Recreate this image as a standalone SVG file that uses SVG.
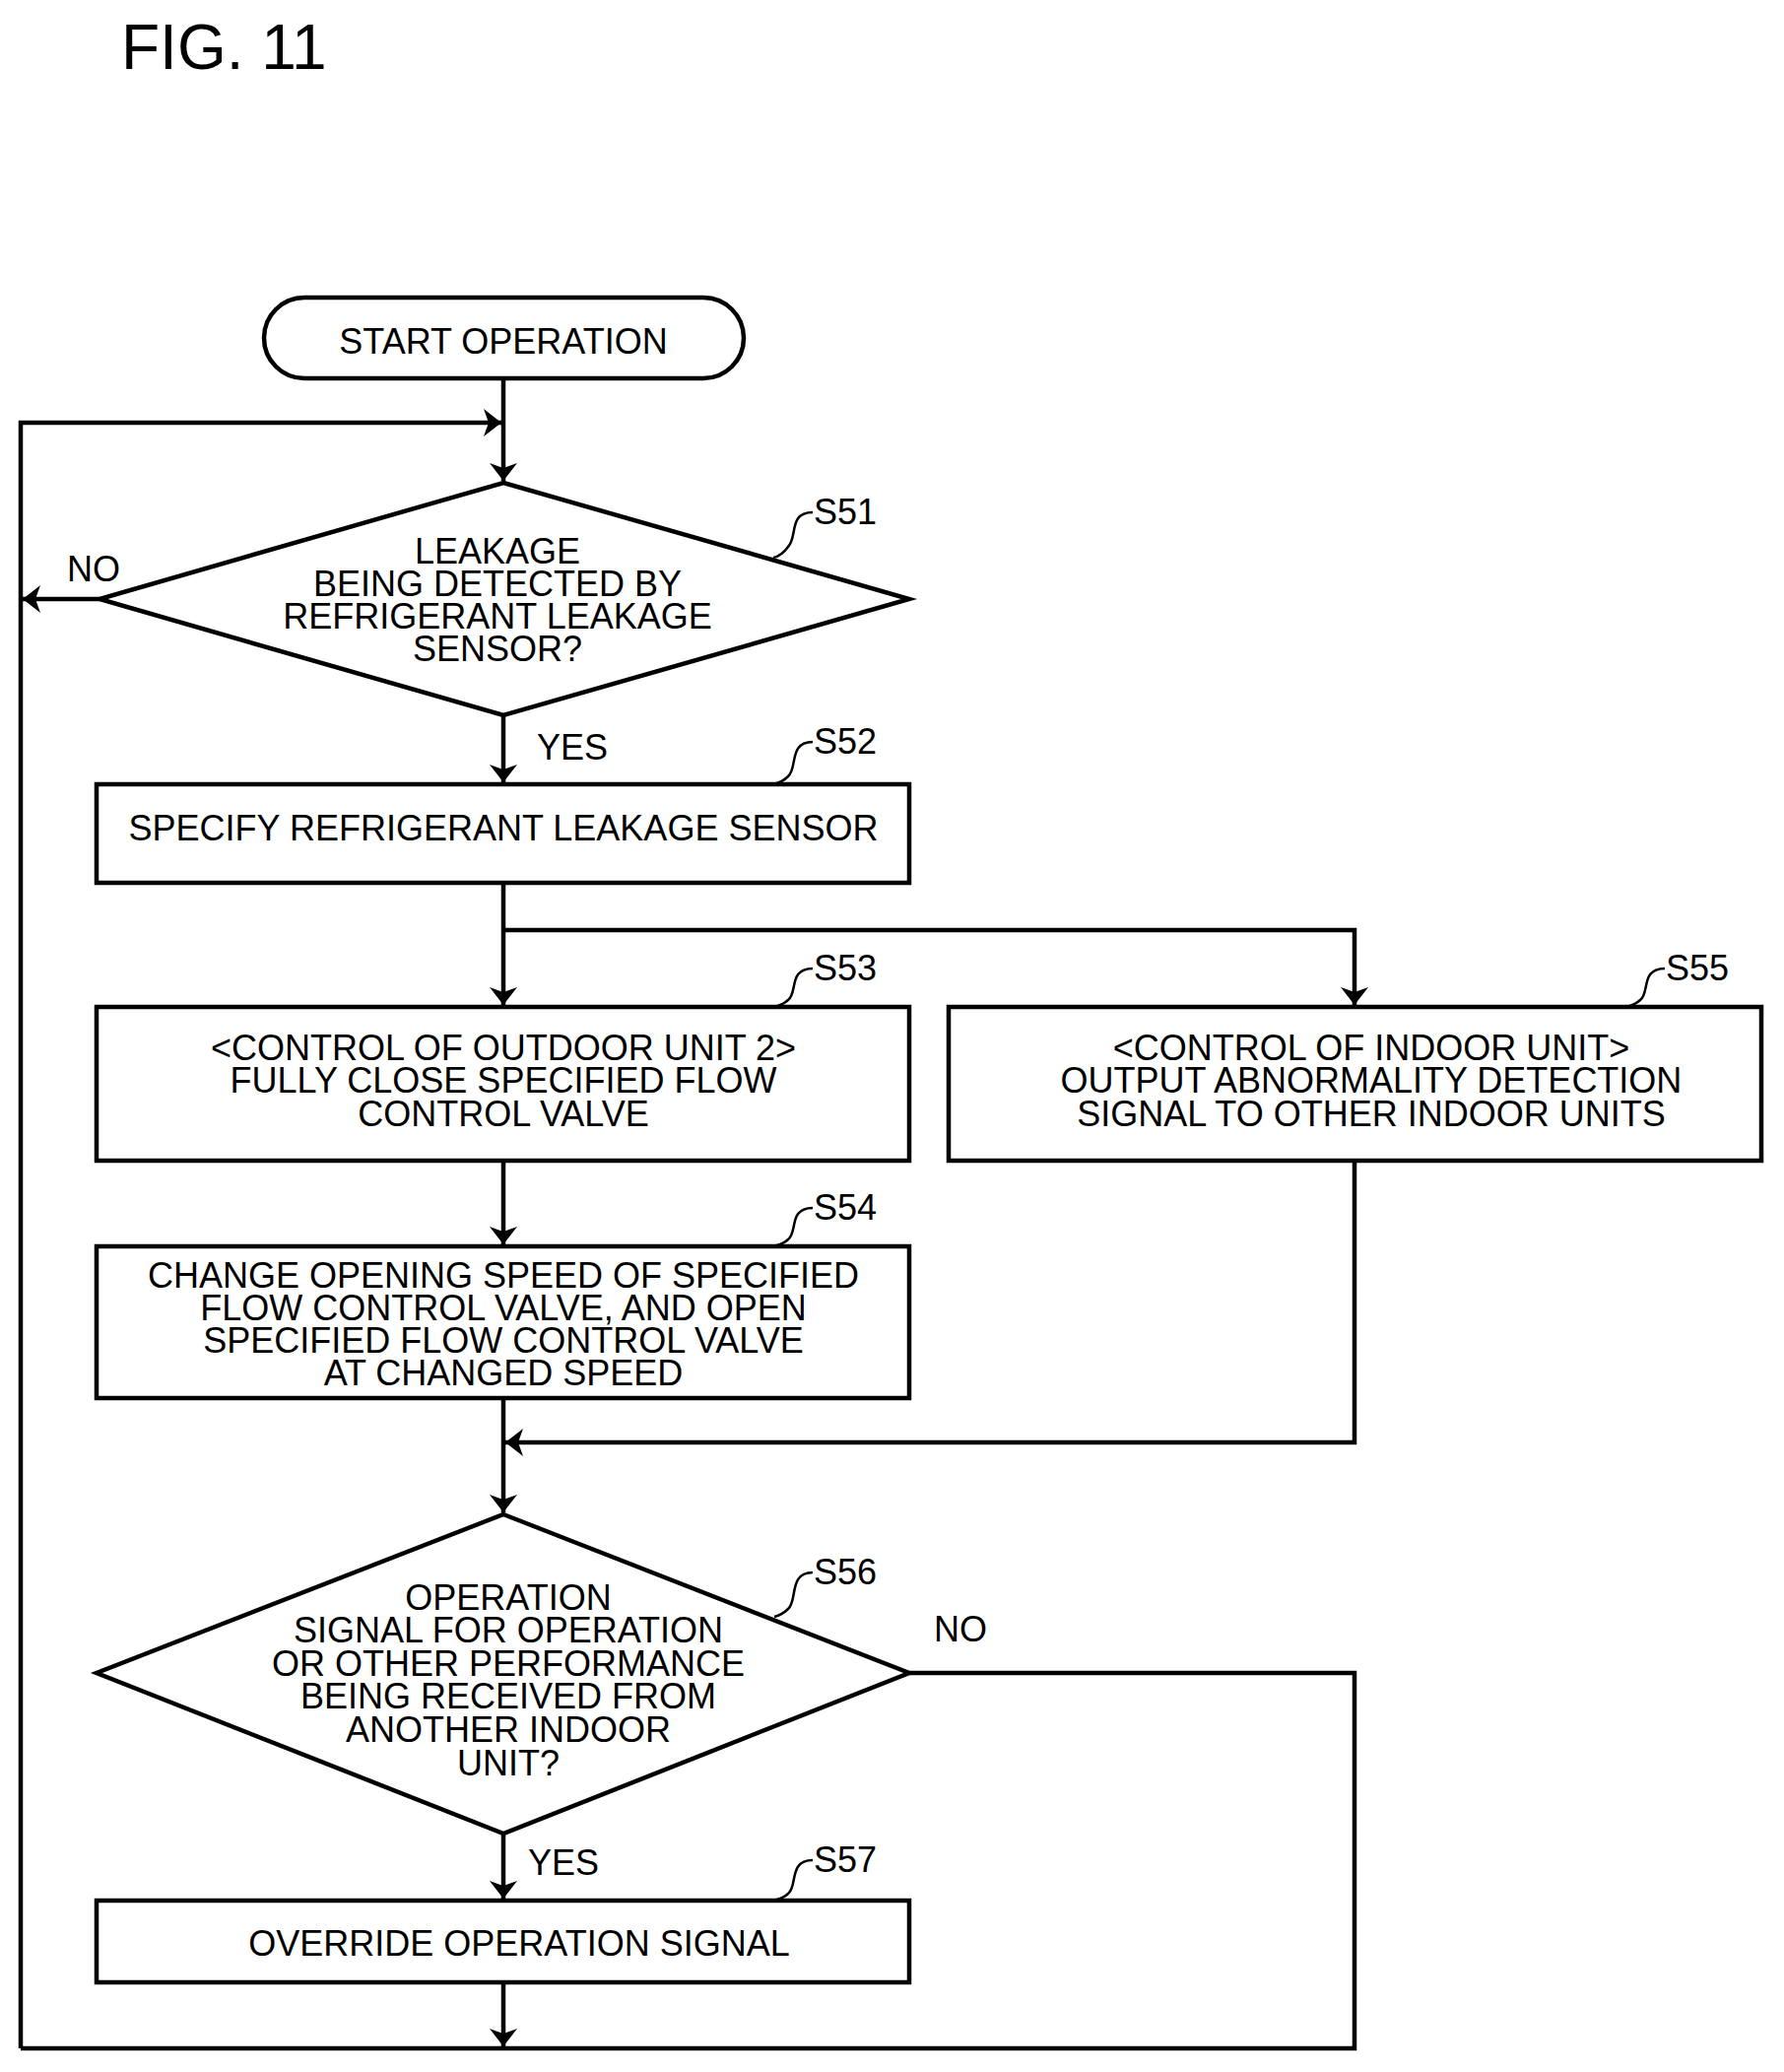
<svg xmlns="http://www.w3.org/2000/svg" width="1811" height="2103" viewBox="0 0 1811 2103">
<style>
.s{fill:#fff;stroke:#000;stroke-width:4.5}
.l{fill:none;stroke:#000;stroke-width:4.5}
.q{fill:none;stroke:#000;stroke-width:2.5}
text{font-family:"Liberation Sans",Arial,sans-serif;font-size:36px;fill:#000}
.c{text-anchor:middle}
</style>
<defs><marker id="a" markerWidth="18" markerHeight="28" refX="18" refY="14" orient="auto" markerUnits="userSpaceOnUse"><path d="M0,0 L18,14 L0,28 L5,14 Z" fill="#000"/></marker></defs>
<text x="123" y="70" style="font-size:64px">FIG. 11</text>
<g id="connectors">
<path class="l" d="M511,384 V488" marker-end="url(#a)"/>
<path class="l" d="M21,2079 V429 H509" marker-end="url(#a)"/>
<path class="l" d="M101,608 H23" marker-end="url(#a)"/>
<path class="l" d="M511,726 V794" marker-end="url(#a)"/>
<path class="l" d="M511,896 V1020" marker-end="url(#a)"/>
<path class="l" d="M511,944 H1375 V1020" marker-end="url(#a)"/>
<path class="l" d="M511,1178 V1263" marker-end="url(#a)"/>
<path class="l" d="M511,1419 V1535" marker-end="url(#a)"/>
<path class="l" d="M1375,1178 V1464 H513" marker-end="url(#a)"/>
<path class="l" d="M511,1861 V1927" marker-end="url(#a)"/>
<path class="l" d="M511,2012 V2077" marker-end="url(#a)"/>
<path class="l" d="M923,1698 H1375 V2079 H21"/>
<text x="68" y="590">NO</text>
<text x="545" y="771">YES</text>
<text x="948" y="1666">NO</text>
<text x="536" y="1903">YES</text>
</g>
<g id="start"><rect class="s" x="268" y="302" width="487" height="82" rx="41"/><text class="c" x="511" y="359">START OPERATION</text></g>
<g id="s51"><path class="s" d="M511,490 L923,608 L511,726 L101,608 Z"/>
<text class="c" x="505" y="572">LEAKAGE</text><text class="c" x="505" y="605">BEING DETECTED BY</text><text class="c" x="505" y="638">REFRIGERANT LEAKAGE</text><text class="c" x="505" y="671">SENSOR?</text>
<path class="q" d="M825,520 C800,520 810,545 800,555 C795,562 790,565 785,566"/><text x="826" y="532">S51</text></g>
<g id="s52"><rect class="s" x="98" y="796" width="825" height="100"/><text class="c" x="511" y="853">SPECIFY REFRIGERANT LEAKAGE SENSOR</text>
<path class="q" d="M825,753 C800,753 810,780 800,788 C795,793 790,795 785,796"/><text x="826" y="765">S52</text></g>
<g id="s53"><rect class="s" x="98" y="1022" width="825" height="156"/>
<text class="c" x="511" y="1076">&lt;CONTROL OF OUTDOOR UNIT 2&gt;</text><text class="c" x="511" y="1109">FULLY CLOSE SPECIFIED FLOW</text><text class="c" x="511" y="1143">CONTROL VALVE</text>
<path class="q" d="M825,983 C800,983 810,1008 800,1015 C795,1020 790,1021 785,1022"/><text x="826" y="995">S53</text></g>
<g id="s55"><rect class="s" x="963" y="1022" width="825" height="156"/>
<text class="c" x="1392" y="1076">&lt;CONTROL OF INDOOR UNIT&gt;</text><text class="c" x="1392" y="1109">OUTPUT ABNORMALITY DETECTION</text><text class="c" x="1392" y="1143">SIGNAL TO OTHER INDOOR UNITS</text>
<path class="q" d="M1690,983 C1665,983 1675,1008 1665,1015 C1660,1020 1655,1021 1650,1022"/><text x="1691" y="995">S55</text></g>
<g id="s54"><rect class="s" x="98" y="1265" width="825" height="154"/>
<text class="c" x="511" y="1307">CHANGE OPENING SPEED OF SPECIFIED</text><text class="c" x="511" y="1340">FLOW CONTROL VALVE, AND OPEN</text><text class="c" x="511" y="1373">SPECIFIED FLOW CONTROL VALVE</text><text class="c" x="511" y="1406">AT CHANGED SPEED</text>
<path class="q" d="M825,1226 C800,1226 810,1251 800,1258 C795,1263 790,1264 785,1265"/><text x="826" y="1238">S54</text></g>
<g id="s56"><path class="s" d="M511,1537 L923,1698 L511,1861 L98,1698 Z"/>
<text class="c" x="516" y="1634">OPERATION</text><text class="c" x="516" y="1667">SIGNAL FOR OPERATION</text><text class="c" x="516" y="1701">OR OTHER PERFORMANCE</text><text class="c" x="516" y="1734">BEING RECEIVED FROM</text><text class="c" x="516" y="1768">ANOTHER INDOOR</text><text class="c" x="516" y="1802">UNIT?</text>
<path class="q" d="M825,1596 C800,1596 810,1625 800,1633 C795,1638 790,1640 786,1641"/><text x="826" y="1608">S56</text></g>
<g id="s57"><rect class="s" x="98" y="1929" width="825" height="83"/><text class="c" x="527" y="1985">OVERRIDE OPERATION SIGNAL</text>
<path class="q" d="M825,1888 C800,1888 810,1915 800,1922 C795,1927 790,1928 785,1929"/><text x="826" y="1900">S57</text></g>
</svg>
